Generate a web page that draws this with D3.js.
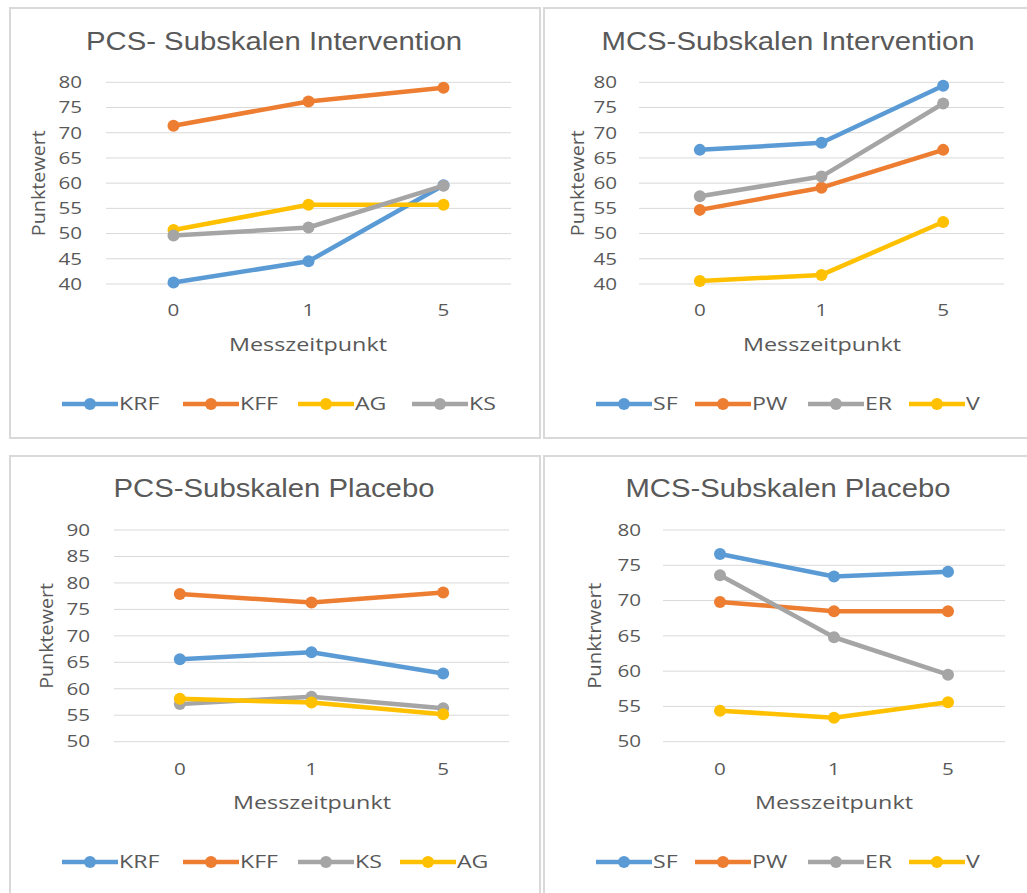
<!DOCTYPE html>
<html>
<head>
<meta charset="utf-8">
<script src="https://cdn.jsdelivr.net/npm/d3@7"></script>
<style>
  html, body { margin: 0; padding: 0; background: #fff; }
  svg { display: block; }
  text { font-family: "Open Sans", "Noto Sans", sans-serif; fill: #595959; }
</style>
</head>
<body>
<svg id="chart" width="1027" height="893"></svg>
<script>
// ---------- Data ----------
const categories = ["0", "1", "5"];

// PCS Intervention
const pcsIntSeries = ["KRF", "KFF", "AG", "KS"];
const pcsIntKRF = [40.3, 44.5, 59.6];
const pcsIntKFF = [71.4, 76.2, 78.9];
const pcsIntAG  = [50.7, 55.7, 55.7];
const pcsIntKS  = [49.6, 51.2, 59.5];
const pcsIntTicks = [40, 45, 50, 55, 60, 65, 70, 75, 80];

// MCS Intervention
const mcsIntSeries = ["SF", "PW", "ER", "V"];
const mcsIntSF = [66.6, 68.0, 79.3];
const mcsIntPW = [54.7, 59.1, 66.6];
const mcsIntER = [57.4, 61.3, 75.8];
const mcsIntV  = [40.6, 41.8, 52.3];
const mcsIntTicks = [40, 45, 50, 55, 60, 65, 70, 75, 80];

// PCS Placebo
const pcsPlaSeries = ["KRF", "KFF", "KS", "AG"];
const pcsPlaKRF = [65.6, 66.9, 62.9];
const pcsPlaKFF = [77.9, 76.3, 78.2];
const pcsPlaKS  = [57.1, 58.5, 56.3];
const pcsPlaAG  = [58.1, 57.4, 55.2];
const pcsPlaTicks = [50, 55, 60, 65, 70, 75, 80, 85, 90];

// MCS Placebo
const mcsPlaSeries = ["SF", "PW", "ER", "V"];
const mcsPlaSF = [76.6, 73.4, 74.1];
const mcsPlaPW = [69.8, 68.5, 68.5];
const mcsPlaER = [73.6, 64.8, 59.5];
const mcsPlaV  = [54.4, 53.4, 55.6];
const mcsPlaTicks = [50, 55, 60, 65, 70, 75, 80];

const titles = ["PCS- Subskalen Intervention", "MCS-Subskalen Intervention",
                "PCS-Subskalen Placebo", "MCS-Subskalen Placebo"];
const yTitles = ["Punktewert", "Punktewert", "Punktewert", "Punktrwert"];
const xTitle = "Messzeitpunkt";

// ---------- Styling ----------
const colorOf = {
  KRF: "#5B9BD5", KFF: "#ED7D31", AG: "#FFC000", KS: "#A5A5A5",
  SF: "#5B9BD5", PW: "#ED7D31", ER: "#A5A5A5", V: "#FFC000"
};
const STRETCH = 1.25;

const panels = [
  { title: titles[0], yTitle: yTitles[0], series: pcsIntSeries,
    values: [pcsIntKRF, pcsIntKFF, pcsIntAG, pcsIntKS], ticks: pcsIntTicks,
    box: [10, 8, 530, 430], xr: [106, 511], yr: [284, 82.3],
    titleX: 274, titleY: 41, titleW: 376, yLabX: 82, yTitleX: 39, xTickY: 310, xTitleX: 308, xTitleY: 345,
    legendY: 404, legendX: [62, 183, 298, 412] },
  { title: titles[1], yTitle: yTitles[1], series: mcsIntSeries,
    values: [mcsIntSF, mcsIntPW, mcsIntER, mcsIntV], ticks: mcsIntTicks,
    box: [544, 8, 500, 430], xr: [639, 1004], yr: [284, 82.3],
    titleX: 788, titleY: 41, titleW: 373, yLabX: 617, yTitleX: 578, xTickY: 310, xTitleX: 822, xTitleY: 345,
    legendY: 404, legendX: [596, 695, 808, 909] },
  { title: titles[2], yTitle: yTitles[2], series: pcsPlaSeries,
    values: [pcsPlaKRF, pcsPlaKFF, pcsPlaKS, pcsPlaAG], ticks: pcsPlaTicks,
    box: [10, 456, 530, 460], xr: [114, 509], yr: [741.7, 530],
    titleX: 274, titleY: 488, titleW: 321, yLabX: 90, yTitleX: 47, xTickY: 769, xTitleX: 312, xTitleY: 803,
    legendY: 862, legendX: [62, 183, 298, 400] },
  { title: titles[3], yTitle: yTitles[3], series: mcsPlaSeries,
    values: [mcsPlaSF, mcsPlaPW, mcsPlaER, mcsPlaV], ticks: mcsPlaTicks,
    box: [544, 456, 500, 460], xr: [663, 1005], yr: [741.7, 530],
    titleX: 788, titleY: 488, titleW: 325, yLabX: 641, yTitleX: 595, xTickY: 769, xTitleX: 834, xTitleY: 803,
    legendY: 862, legendX: [596, 695, 808, 909] }
];

function stretch(sel, f) {
  sel.each(function () {
    const w = this.getComputedTextLength();
    d3.select(this).attr("textLength", w * f).attr("lengthAdjust", "spacingAndGlyphs");
  });
}

const svg = d3.select("#chart");

panels.forEach(p => {
  const g = svg.append("g");
  g.append("rect")
    .attr("x", p.box[0]).attr("y", p.box[1])
    .attr("width", p.box[2]).attr("height", p.box[3])
    .attr("fill", "#fff").attr("stroke", "#D9D9D9").attr("stroke-width", 2);

  const x = d3.scaleBand().domain(categories).range(p.xr);
  const y = d3.scaleLinear()
    .domain([p.ticks[0], p.ticks[p.ticks.length - 1]])
    .range(p.yr);

  // Gridlines
  g.selectAll(".grid").data(p.ticks).enter().append("line")
    .attr("x1", p.xr[0]).attr("x2", p.xr[1])
    .attr("y1", d => y(d)).attr("y2", d => y(d))
    .attr("stroke", "#D9D9D9").attr("stroke-width", 1);

  // Y axis labels via d3 axis
  const yAxis = d3.axisLeft(y).tickValues(p.ticks).tickSize(0).tickPadding(0);
  const ya = g.append("g").attr("transform", `translate(${p.yLabX},0)`).call(yAxis);
  ya.select(".domain").remove();
  ya.selectAll("text").attr("font-size", 16.5).attr("fill", "#595959")
    .style("font-family", '"Open Sans", sans-serif');
  stretch(ya.selectAll("text"), STRETCH);

  // X axis labels
  const xAxis = d3.axisBottom(x).tickSize(0).tickPadding(0);
  const xa = g.append("g").attr("transform", `translate(0,${p.xTickY})`).call(xAxis);
  xa.select(".domain").remove();
  xa.selectAll("text").attr("font-size", 16.5).attr("fill", "#595959")
    .attr("y", 0).attr("dy", "0.35em")
    .style("font-family", '"Open Sans", sans-serif');
  stretch(xa.selectAll("text"), STRETCH);

  // Titles
  g.append("text").attr("x", p.titleX).attr("y", p.titleY)
    .attr("text-anchor", "middle").attr("dy", "0.36em")
    .attr("font-size", 25.5)
    .style("font-family", '"Liberation Sans", Arial, sans-serif')
    .attr("textLength", p.titleW).attr("lengthAdjust", "spacingAndGlyphs")
    .text(p.title);

  const ymid = (p.yr[0] + p.yr[1]) / 2;
  g.append("text")
    .attr("transform", `translate(${p.yTitleX},${ymid}) rotate(-90)`)
    .attr("text-anchor", "middle").attr("dy", "0.35em")
    .attr("font-size", 18.5)
    .attr("textLength", 106).attr("lengthAdjust", "spacingAndGlyphs")
    .text(p.yTitle);

  g.append("text").attr("x", p.xTitleX).attr("y", p.xTitleY)
    .attr("text-anchor", "middle").attr("dy", "0.35em")
    .attr("font-size", 18.5)
    .attr("textLength", 158).attr("lengthAdjust", "spacingAndGlyphs")
    .text(xTitle);

  // Lines
  const line = d3.line()
    .x((d, i) => x(categories[i]) + x.bandwidth() / 2)
    .y(d => y(d));

  p.series.forEach((s, si) => {
    const vals = p.values[si];
    const col = colorOf[s];
    g.append("path").datum(vals)
      .attr("d", line).attr("fill", "none")
      .attr("stroke", col).attr("stroke-width", 4.5)
      .attr("stroke-linejoin", "round");
    g.selectAll(null).data(vals).enter().append("circle")
      .attr("cx", (d, i) => x(categories[i]) + x.bandwidth() / 2)
      .attr("cy", d => y(d))
      .attr("r", 6).attr("fill", col);
  });

  // Legend
  p.series.forEach((s, si) => {
    const lx = p.legendX[si];
    const col = colorOf[s];
    g.append("line").attr("x1", lx).attr("x2", lx + 56)
      .attr("y1", p.legendY).attr("y2", p.legendY)
      .attr("stroke", col).attr("stroke-width", 4.5);
    g.append("circle").attr("cx", lx + 28).attr("cy", p.legendY)
      .attr("r", 6).attr("fill", col);
    const t = g.append("text").attr("x", lx + 57).attr("y", p.legendY)
      .attr("dy", "0.35em")
      .attr("font-size", 18.5).text(s);
    stretch(t, STRETCH);
  });
});
</script>
</body>
</html>
